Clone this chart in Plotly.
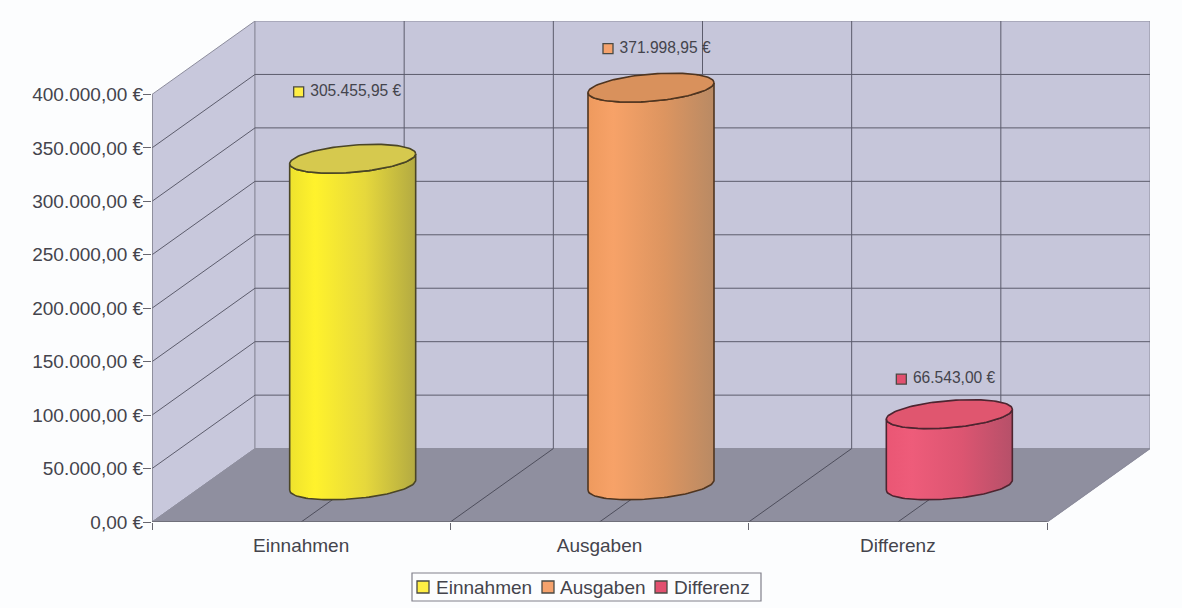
import numpy as np
import plotly.graph_objects as go

# Chart data
categories = ["Einnahmen", "Ausgaben", "Differenz"]
values = [305455.95, 371998.95, 66543.00]
value_labels = ["305.455,95 €", "371.998,95 €", "66.543,00 €"]
y_ticks = [0, 50000, 100000, 150000, 200000, 250000, 300000, 350000, 400000]
y_tick_labels = ["0,00 €", "50.000,00 €", "100.000,00 €", "150.000,00 €", "200.000,00 €",
                 "250.000,00 €", "300.000,00 €", "350.000,00 €", "400.000,00 €"]

# Series colours: key swatch, cylinder lid, body gradient stops, outline
key_colors = ["#ffee44", "#f5a26c", "#e2506f"]
lid_colors = ["#d6c94e", "#d9915c", "#e0566f"]
body_stops = [
    ["#eee22e", "#fff22c", "#e6d83c", "#b3aa42"],
    ["#ee9a5e", "#f7a268", "#dd9560", "#b98a64"],
    ["#ea5674", "#ee5c7a", "#dc5571", "#b65069"],
]
outlines = ["#4a4526", "#4f3520", "#4d2530"]

# Drawing scale of the oblique 3D box
PLOT_L, PLOT_R, PLOT_T, PLOT_B = 152, 1150, 21, 522
PX_PER_CAT = 298.33
PX_PER_VAL = 428 / 400000
DEPTH_X = 103 / PX_PER_CAT
DEPTH_Y = 73.5 / PX_PER_VAL
N_CAT = len(categories)
X_MAX = N_CAT + DEPTH_X
Y_MAX = 400000 + DEPTH_Y

WALL = "#c6c6da"
SIDE = "#c8c8dc"
FLOOR = "#8f8f9f"
GRID = "#5c5c6c"
EDGE = "#8c8c9c"
TEXT = "#44444c"
FONT = "Liberation Sans"

fig = go.Figure()


def poly(xs, ys, color, line=EDGE, width=1):
    fig.add_trace(go.Scatter(x=xs, y=ys, mode="lines", fill="toself", fillcolor=color,
                             line=dict(color=line, width=width), hoverinfo="skip",
                             showlegend=False))


def polyline(xs, ys, color, width=1):
    fig.add_trace(go.Scatter(x=xs, y=ys, mode="lines", line=dict(color=color, width=width),
                             hoverinfo="skip", showlegend=False))


# Side wall, back wall, floor
poly([0, DEPTH_X, DEPTH_X, 0, 0], [400000, Y_MAX, DEPTH_Y, 0, 400000], SIDE)
poly([DEPTH_X, X_MAX, X_MAX, DEPTH_X, DEPTH_X], [DEPTH_Y, DEPTH_Y, Y_MAX, Y_MAX, DEPTH_Y], WALL)
poly([0, N_CAT, X_MAX, DEPTH_X, 0], [0, 0, DEPTH_Y, DEPTH_Y, 0], FLOOR, line=FLOOR)

# Value gridlines running along the side wall and back wall
gx, gy = [], []
for v in y_ticks[1:-1]:
    gx += [0, DEPTH_X, X_MAX, None]
    gy += [v, v + DEPTH_Y, v + DEPTH_Y, None]
polyline(gx, gy, GRID)

# Vertical gridlines on the back wall and depth lines on the floor
half_steps = [i / 2 for i in range(1, 2 * N_CAT)]
vx, vy = [], []
for h in half_steps:
    vx += [h + DEPTH_X, h + DEPTH_X, None]
    vy += [DEPTH_Y, Y_MAX, None]
polyline(vx, vy, GRID)
fx, fy = [], []
for h in half_steps:
    fx += [h, h + DEPTH_X, None]
    fy += [0, DEPTH_Y, None]
polyline(fx, fy, "#4e4e5c")

# Cylinders
RX = 63 / PX_PER_CAT
TILT = 5 / PX_PER_VAL
RY = 13.6 / PX_PER_VAL
BASE_Y = DEPTH_Y * 0.5
t = np.linspace(0, 2 * np.pi, 121)
for i, v in enumerate(values):
    cx = i + 0.5 + DEPTH_X / 2
    ex = RX * np.cos(t)
    ey = TILT * np.cos(t) + RY * np.sin(t)
    # body: lower half of the base ellipse, then back across the lid's lower edge
    lower = t[(t >= np.pi) & (t <= 2 * np.pi)]
    bx = RX * np.cos(lower)
    by = TILT * np.cos(lower) + RY * np.sin(lower)
    body_x = np.concatenate([cx + bx, (cx + bx)[::-1], [cx + bx[0]]])
    body_y = np.concatenate([BASE_Y + by, (BASE_Y + v + by)[::-1], [BASE_Y + by[0]]])
    stops = body_stops[i]
    fig.add_trace(go.Scatter(
        x=body_x, y=body_y, mode="lines", fill="toself",
        line=dict(color=outlines[i], width=1.6), hoverinfo="skip", showlegend=False,
        fillgradient=dict(type="horizontal",
                          colorscale=[[0, stops[0]], [0.2, stops[1]], [0.6, stops[2]], [1, stops[3]]]),
    ))
    poly(cx + ex, BASE_Y + v + ey, lid_colors[i], line=outlines[i], width=1.6)

# Outer edges of the box, drawn over the floor
polyline([0, 0], [0, 400000], "#7c7c88", 1.2)
polyline([0, N_CAT], [0, 0], "#66666f", 1.6)
polyline([N_CAT, X_MAX], [0, DEPTH_Y], EDGE, 1.2)

# Value labels with their colour swatches
label_dx = [-54 / PX_PER_CAT, -43 / PX_PER_CAT, -48 / PX_PER_CAT]
label_lift = [67 / PX_PER_VAL, 39 / PX_PER_VAL, 35 / PX_PER_VAL]
fig.add_trace(go.Scatter(
    x=[i + 0.5 + DEPTH_X / 2 + label_dx[i] for i in range(N_CAT)],
    y=[BASE_Y + values[i] + label_lift[i] for i in range(N_CAT)],
    mode="markers+text", text=[" " + s for s in value_labels], textposition="middle right",
    textfont=dict(family=FONT, size=15.6, color=TEXT),
    marker=dict(symbol="square", size=10, color=key_colors, line=dict(color="#4a4a44", width=1.3)),
    hoverinfo="skip", showlegend=False,
))


# Legend box, laid out in page pixels and placed through paper coordinates
def paper_x(px):
    return (px - PLOT_L) / (PLOT_R - PLOT_L)


def paper_y(py):
    return (PLOT_B - py) / (PLOT_B - PLOT_T)


legend_key_x = [423, 548, 661]
legend_text_x = [435, 559, 673]
legend_y = 587
shapes = [dict(type="rect", xref="paper", yref="paper", x0=paper_x(412), x1=paper_x(761),
               y0=paper_y(601), y1=paper_y(573), line=dict(color="#80808a", width=1.2),
               fillcolor="#fcfdfe")]
annotations = []
for name, color, kx, tx in zip(categories, key_colors, legend_key_x, legend_text_x):
    shapes.append(dict(type="rect", xref="paper", yref="paper",
                       x0=paper_x(kx - 6), x1=paper_x(kx + 6),
                       y0=paper_y(legend_y + 6), y1=paper_y(legend_y - 6),
                       line=dict(color="#4a4a44", width=1.3), fillcolor=color))
    annotations.append(dict(xref="paper", yref="paper", x=paper_x(tx), y=paper_y(legend_y),
                            xanchor="left", yanchor="middle", text=name, showarrow=False,
                            xshift=-1, font=dict(family=FONT, size=19, color=TEXT)))

fig.update_layout(
    width=1182, height=608, autosize=False, showlegend=False,
    margin=dict(l=PLOT_L, r=1182 - PLOT_R, t=PLOT_T, b=608 - PLOT_B, pad=0, autoexpand=False),
    paper_bgcolor="#fcfdfe", plot_bgcolor="rgba(0,0,0,0)",
    font=dict(family=FONT, size=19, color=TEXT),
    shapes=shapes, annotations=annotations,
    xaxis=dict(range=[0, X_MAX], showgrid=False, zeroline=False, showline=False,
               tickmode="array", tickvals=[i + 0.5 for i in range(N_CAT)], ticktext=categories,
               ticks="outside", ticklen=6, tickcolor="rgba(0,0,0,0)",
               minor=dict(tickmode="array", tickvals=list(range(N_CAT + 1)), ticks="outside",
                          ticklen=7, tickcolor="#66666f", tickwidth=1.2, showgrid=False)),
    yaxis=dict(range=[0, Y_MAX], showgrid=False, zeroline=False, showline=False,
               tickmode="array", tickvals=y_ticks, ticktext=y_tick_labels,
               ticks="outside", ticklen=8, tickcolor="#66666f", tickwidth=1.2,
               ticklabelstandoff=-4),
)

fig.write_html("out.html", config=dict(displayModeBar=False))
